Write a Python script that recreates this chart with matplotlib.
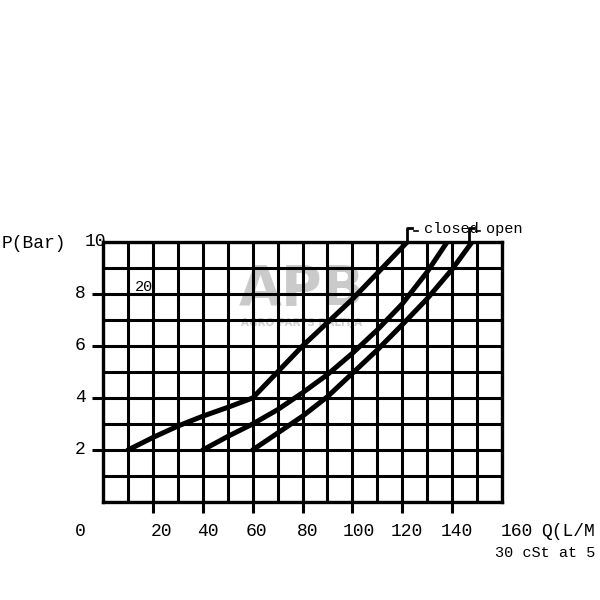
import numpy as np
import matplotlib
matplotlib.use('Agg')
import matplotlib.pyplot as plt

# flow Q (L/min) vs pressure P (bar)
q_closed = [10, 20, 30, 40, 50, 60, 70, 80, 90, 100, 110, 122]
p_closed = [2.0, 2.48, 2.92, 3.3, 3.64, 4.0, 5.0, 6.0, 6.9, 7.8, 8.8, 10.0]

q_mid = [40, 50, 60, 70, 80, 90, 100, 110, 120, 130, 138]
p_mid = [2.0, 2.52, 3.0, 3.55, 4.2, 4.9, 5.72, 6.62, 7.62, 8.85, 10.0]

q_open = [60, 70, 80, 90, 100, 110, 120, 130, 140, 148]
p_open = [2.0, 2.65, 3.3, 4.05, 4.95, 5.85, 6.82, 7.82, 8.95, 10.0]

x_ticks = [20, 40, 60, 80, 100, 120, 140]
x_labels = ['0', '20', '40', '60', '80', '100', '120', '140', '160']
x_label_vals = [0, 20, 40, 60, 80, 100, 120, 140, 160]
y_labels = ['2', '4', '6', '8', '10']
y_label_vals = [2, 4, 6, 8, 10]

mono = 'Liberation Mono'

fig = plt.figure(figsize=(6, 6), dpi=100)
ax = fig.add_axes([103 / 600, 1 - 502 / 600, 399 / 600, 260 / 600])
ax.set_xlim(0, 160)
ax.set_ylim(0, 10)

# grid every 10 L/min and every 1 bar
ax.set_xticks(np.arange(0, 161, 10), minor=True)
ax.set_yticks(np.arange(0, 11, 1), minor=True)
ax.set_xticks(x_ticks)
ax.set_yticks([2, 4, 6, 8])
ax.set_xticklabels([])
ax.set_yticklabels([])
ax.tick_params(which='minor', length=0)
ax.tick_params(which='major', length=8, width=2.2, color='black')
ax.grid(which='both', color='black', lw=2.2)
ax.set_axisbelow(True)
for s in ax.spines.values():
    s.set_linewidth(2.4)
    s.set_color('black')

# watermark
ax.text(79.5, 8.15, 'APB', color='#cacaca', fontsize=40, fontweight='bold',
        ha='center', va='center', zorder=0.5, family='DejaVu Sans')
ax.text(79.5, 6.88, 'AGRO PARTS BALTIJA', color='#d0d0d0', fontsize=7.5,
        fontweight='bold', ha='center', va='center', zorder=0.5, family='DejaVu Sans')

for q, p in [(q_closed, p_closed), (q_mid, p_mid), (q_open, p_open)]:
    ax.plot(q, p, color='black', lw=3.6, solid_capstyle='round',
            solid_joinstyle='round', zorder=3)

ax.text(16.4, 8.27, '20', fontsize=11, family=mono, ha='center', va='center', zorder=4)

# closed / open markers at the top of the curves
for xe in [q_closed[-1], q_open[-1] - 1.2]:
    ax.plot([xe, xe, xe + 2], [10, 10.52, 10.52], color='black', lw=2,
            clip_on=False, zorder=4)
    ax.plot([xe + 2.6, xe + 4.4], [10.42, 10.42], color='black', lw=1.2,
            clip_on=False, zorder=4)
ax.text(128.6, 10.5, 'closed', fontsize=11, family=mono, ha='left', va='center')
ax.text(153.6, 10.5, 'open', fontsize=11, family=mono, ha='left', va='center')

# axis labels, placed like the printed sheet
x_offsets = [-9.2, 3.6, 2.0, 1.6, 2.0, 2.4, 2.0, 2.0, 6.0]
for v, lab, off in zip(x_label_vals, x_labels, x_offsets):
    ax.text(v + off, -1.12, lab, fontsize=13, family=mono, ha='center',
            va='center', clip_on=False)
ax.text(175.6, -1.12, 'Q(L/M', fontsize=13, family=mono, ha='left', va='center')
ax.text(157.2, -1.96, '30 cSt at 5', fontsize=11, family=mono, ha='left', va='center')

for v, lab in zip(y_label_vals, y_labels):
    xpos = -3.2 if lab == '10' else -9.2
    ax.text(xpos, v, lab, fontsize=13, family=mono, ha='center', va='center')
fig.text(2 / 600, 1 - 243 / 600, 'P(Bar)', fontsize=13, family=mono,
         ha='left', va='center')

fig.savefig('out.png', dpi=100, facecolor='white')
